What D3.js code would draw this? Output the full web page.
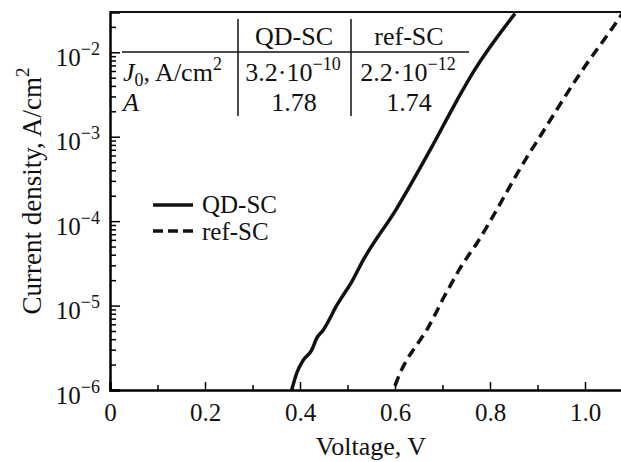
<!DOCTYPE html>
<html>
<head>
<meta charset="utf-8">
<script src="https://cdn.jsdelivr.net/npm/d3@7"></script>
<style>
  body { margin: 0; background: #fff; }
  svg, svg text { font-family: "Liberation Serif", "Times New Roman", serif; }
</style>
</head>
<body>
<div id="chart"></div>
<script>
// QD-SC curve, voltage (V) and current density (A/cm2)
const qdVoltage = [0.3825, 0.393, 0.407, 0.4246, 0.435, 0.449, 0.4667, 0.4737, 0.4842, 0.5088, 0.533, 0.6035, 0.6737, 0.7305, 0.765, 0.8526];
const qdCurrent = [1.00e-6, 1.58e-6, 2.26e-6, 2.97e-6, 4.09e-6, 5.13e-6, 7.73e-6, 9.27e-6, 1.16e-5, 1.91e-5, 3.45e-5, 1.41e-4, 6.92e-4, 2.70e-3, 5.85e-3, 2.87e-2];

// ref-SC curve
const refVoltage = [0.600, 0.6105, 0.6246, 0.6456, 0.6667, 0.684, 0.7017, 0.719, 0.7368, 0.772, 0.877, 0.905, 0.9895, 1.0667, 1.08];
const refCurrent = [1.12e-6, 1.58e-6, 2.26e-6, 3.41e-6, 5.13e-6, 7.76e-6, 1.22e-5, 1.83e-5, 2.75e-5, 5.44e-5, 5.62e-4, 1.00e-3, 5.60e-3, 2.29e-2, 2.95e-2];

const xMajor = [0, 0.2, 0.4, 0.6, 0.8, 1.0];
const xMinor = [0.1, 0.3, 0.5, 0.7, 0.9];
const xLabels = ["0", "0.2", "0.4", "0.6", "0.8", "1.0"];
const yMajor = [1e-6, 1e-5, 1e-4, 1e-3, 1e-2];
const yExponents = ["−6", "−5", "−4", "−3", "−2"];

// inset table
const tableHeader = ["QD-SC", "ref-SC"];
const tableJ0 = [["3.2·10", "−10"], ["2.2·10", "−12"]];
const tableA = ["1.78", "1.74"];

const width = 621, height = 462;
const margin = { top: 12, right: -2, bottom: 72, left: 110 };
const serif = "Liberation Serif, Times New Roman, serif";

const svg = d3.select("#chart").append("svg")
  .attr("width", width)
  .attr("height", height)
  .attr("font-family", serif);

const x = d3.scaleLinear().domain([0, 1.08]).range([margin.left, width - margin.right]);
const y = d3.scaleLog().domain([1e-6, 0.03]).range([height - margin.bottom, margin.top]);

// minor log ticks (2..9 within each decade)
let yMinor = [];
yMajor.forEach(d => {
  for (let k = 2; k <= 9; k++) yMinor.push(d * k);
});
yMinor = yMinor.filter(v => v < 0.03);

svg.append("defs").append("clipPath").attr("id", "plot")
  .append("rect")
  .attr("x", margin.left).attr("y", margin.top)
  .attr("width", width - margin.right - margin.left)
  .attr("height", height - margin.bottom - margin.top);

// x axis
svg.append("g")
  .attr("transform", `translate(0,${height - margin.bottom})`)
  .call(d3.axisBottom(x).tickValues(xMajor).tickSize(-8).tickPadding(13)
    .tickFormat((d, i) => xLabels[i]));
svg.append("g")
  .attr("transform", `translate(0,${height - margin.bottom})`)
  .call(d3.axisBottom(x).tickValues(xMinor).tickSize(-5).tickFormat(""))
  .call(g => g.select(".domain").remove());

// y axis
const yAxisG = svg.append("g")
  .attr("transform", `translate(${margin.left},0)`)
  .call(d3.axisLeft(y).tickValues(yMajor).tickSize(-10).tickPadding(10)
    .tickFormat(""));
svg.append("g")
  .attr("transform", `translate(${margin.left},0)`)
  .call(d3.axisLeft(y).tickValues(yMinor).tickSize(-6).tickFormat(""))
  .call(g => g.select(".domain").remove());

yAxisG.selectAll(".tick text")
  .attr("dy", "13")
  .each(function(d, i) {
    const t = d3.select(this);
    t.text("10");
    t.append("tspan").attr("dy", -11).text(yExponents[i]);
  });

svg.selectAll("g").attr("font-family", serif);
svg.selectAll(".domain").attr("stroke-width", 2.5);
svg.selectAll(".tick line").attr("stroke-width", 1.5);
svg.selectAll(".tick text").attr("font-size", 25).attr("fill", "#111");
yAxisG.selectAll(".tick text tspan").attr("font-size", 18);

// top frame line
svg.append("line")
  .attr("x1", x(0)).attr("x2", x(1.08))
  .attr("y1", y(0.03)).attr("y2", y(0.03))
  .attr("stroke", "#111").attr("stroke-width", 2);

// curves
const line = d3.line().x(d => x(d[0])).y(d => y(d[1])).curve(d3.curveMonotoneX);
const plot = svg.append("g").attr("clip-path", "url(#plot)");
plot.append("path")
  .datum(qdVoltage.map((v, i) => [v, qdCurrent[i]]))
  .attr("d", line).attr("fill", "none").attr("stroke", "#111").attr("stroke-width", 3.5);
plot.append("path")
  .datum(refVoltage.map((v, i) => [v, refCurrent[i]]))
  .attr("d", line).attr("fill", "none").attr("stroke", "#111").attr("stroke-width", 3.5)
  .attr("stroke-dasharray", "10,6");

// legend
const legend = svg.append("g").attr("font-size", 25).attr("fill", "#111");
legend.append("line").attr("x1", 153).attr("x2", 193).attr("y1", 205).attr("y2", 205)
  .attr("stroke", "#111").attr("stroke-width", 3.5);
legend.append("text").attr("x", 202).attr("y", 213).text("QD-SC");
legend.append("line").attr("x1", 153).attr("x2", 193).attr("y1", 231).attr("y2", 231)
  .attr("stroke", "#111").attr("stroke-width", 3.5).attr("stroke-dasharray", "10,5");
legend.append("text").attr("x", 202).attr("y", 240).text("ref-SC");

// inset table
const table = svg.append("g").attr("font-size", 26).attr("fill", "#111");
table.append("line").attr("x1", 122).attr("x2", 469).attr("y1", 52).attr("y2", 52)
  .attr("stroke", "#111").attr("stroke-width", 1.5);
[238, 351].forEach(cx => table.append("line")
  .attr("x1", cx).attr("x2", cx).attr("y1", 19).attr("y2", 116)
  .attr("stroke", "#111").attr("stroke-width", 1.5));
const colX = [294, 409];
tableHeader.forEach((h, i) => table.append("text")
  .attr("x", colX[i]).attr("y", 45).attr("text-anchor", "middle").text(h));
const j0 = table.append("text").attr("x", 123).attr("y", 81);
j0.append("tspan").attr("font-style", "italic").text("J");
j0.append("tspan").attr("font-size", 18).attr("dy", 5).text("0");
j0.append("tspan").attr("dy", -5).text(", A/cm");
j0.append("tspan").attr("font-size", 18).attr("dy", -11).text("2");
tableJ0.forEach((d, i) => {
  const t = table.append("text").attr("x", colX[i] - 1).attr("y", 81).attr("text-anchor", "middle");
  t.append("tspan").text(d[0]);
  t.append("tspan").attr("font-size", 18).attr("dy", -11).text(d[1]);
});
table.append("text").attr("x", 123).attr("y", 111).attr("font-style", "italic").text("A");
tableA.forEach((d, i) => table.append("text")
  .attr("x", colX[i]).attr("y", 111).attr("text-anchor", "middle").text(d));

// axis titles
svg.append("text")
  .attr("x", 371).attr("y", 455).attr("text-anchor", "middle")
  .attr("font-size", 26).attr("fill", "#111").text("Voltage, V");
const yt = svg.append("text")
  .attr("transform", "translate(41,191) rotate(-90)")
  .attr("text-anchor", "middle").attr("font-size", 27).attr("fill", "#111");
yt.append("tspan").text("Current density, A/cm");
yt.append("tspan").attr("font-size", 19).attr("dy", -12).text("2");
</script>
</body>
</html>
